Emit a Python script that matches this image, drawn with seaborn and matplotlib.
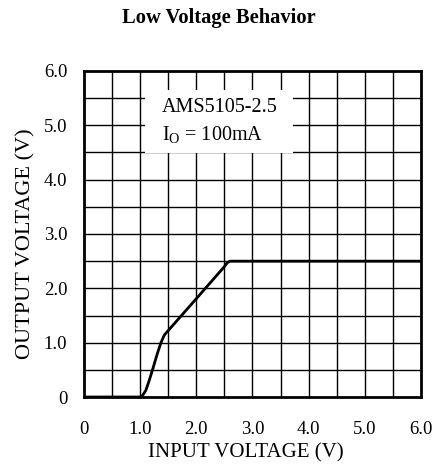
import numpy as np
import pandas as pd
import matplotlib.pyplot as plt
import seaborn as sns
from matplotlib.patches import Rectangle

# === Data ===
vin = [0.0, 1.0, 1.05, 1.1, 1.16, 1.22, 1.3, 1.37, 1.43, 1.48, 2.0, 2.5, 2.55, 2.6, 6.0]
vout = [0.0, 0.0, 0.04, 0.12, 0.3, 0.5, 0.78, 1.0, 1.14, 1.2, 1.81, 2.4, 2.47, 2.5, 2.5]
tick_vals = [0, 1, 2, 3, 4, 5, 6]
tick_labels = ["0", "1.0", "2.0", "3.0", "4.0", "5.0", "6.0"]
part_name = "AMS5105-2.5"
load_text = r"I$_\mathrm{O}$ = 100mA"

df = pd.DataFrame({"vin": vin, "vout": vout})

sns.set_style("white")
plt.rcParams["font.family"] = ["Liberation Serif", "DejaVu Serif"]
plt.rcParams["mathtext.fontset"] = "custom"
plt.rcParams["mathtext.rm"] = "Liberation Serif"
plt.rcParams["mathtext.it"] = "Liberation Serif:italic"
for key in ["text.color", "axes.labelcolor", "xtick.color", "ytick.color"]:
    plt.rcParams[key] = "black"

fig = plt.figure(figsize=(4.35, 4.68), dpi=100)
ax = fig.add_axes([0.1931, 0.1517, 0.7747, 0.6966])

# grid every 0.5 V
for g in np.arange(0.5, 6.0, 0.5):
    ax.axvline(g, color="black", lw=1.0, zorder=1)
    ax.axhline(g, color="black", lw=1.0, zorder=1)

# white label area
ax.add_patch(Rectangle((1.09, 4.49), 2.63, 1.16, facecolor="white",
                       edgecolor="none", zorder=2))

sns.lineplot(data=df, x="vin", y="vout", color="black", lw=2.0, ax=ax, zorder=3)

ax.text(1.38, 5.32, part_name, fontsize=14.5, va="center", ha="left", zorder=4)
ax.text(1.38, 4.83, load_text, fontsize=14.5, va="center", ha="left", zorder=4)

ax.set_xlim(0, 6)
ax.set_ylim(0, 6)
ax.set_xticks(tick_vals)
ax.set_xticklabels(tick_labels)
ax.set_yticks(tick_vals)
ax.set_yticklabels(tick_labels)
ax.tick_params(axis="x", length=0, pad=17, labelsize=13.5)
ax.tick_params(axis="y", length=0, pad=12, labelsize=13.5)
for s in ax.spines.values():
    s.set_color("black")
    s.set_linewidth(2.0)

ax.set_xlabel("INPUT VOLTAGE (V)", fontsize=15)
ax.xaxis.set_label_coords(0.479, -0.143)
ax.set_ylabel("OUTPUT VOLTAGE (V)", fontsize=16)
ax.yaxis.set_label_coords(-0.143, 0.47)
fig.text(0.503, 0.9615, "Low Voltage Behavior", fontsize=14.8, fontweight="bold",
         ha="center", va="center")

fig.savefig("out.png", dpi=100)
